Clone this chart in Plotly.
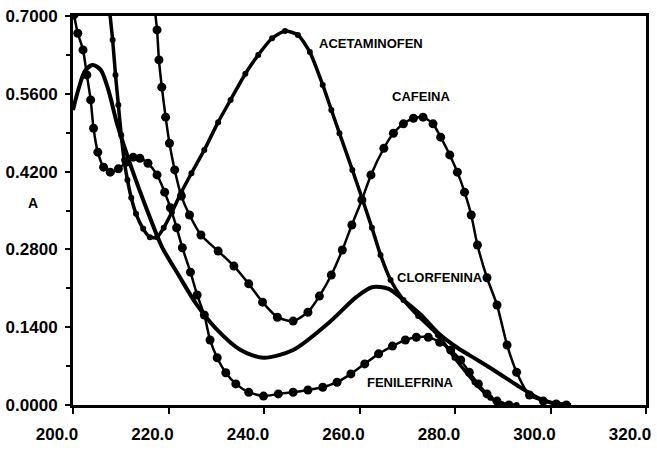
import plotly.graph_objects as go

# ---- data (wavelength nm, absorbance) ----
clor_wl = [200.0, 201.2, 202.5, 204.1, 205.8, 207.4, 209.3, 212.4, 215.5, 218.6, 222.1, 225.8,
           229.9, 235.1, 239.9, 246.1, 253.7, 259.3, 262.6, 266.1, 269.2, 272.9, 276.4, 280.5,
           284.7, 288.8, 292.9, 297.1, 300.2, 304.3]
clor_a = [0.531, 0.570, 0.601, 0.612, 0.603, 0.567, 0.504, 0.423, 0.351, 0.285, 0.234, 0.182,
          0.138, 0.099, 0.085, 0.099, 0.149, 0.194, 0.212, 0.209, 0.189, 0.162, 0.130, 0.103,
          0.081, 0.059, 0.036, 0.014, 0.004, 0.000]

acet_wl = [207.6, 208.3, 208.9, 209.5, 210.1, 210.7, 211.4, 212.2, 213.2, 214.7, 216.1, 217.6,
           219.0, 220.7, 222.7, 224.8, 227.5, 230.4, 233.0, 236.1, 238.8, 241.7, 244.4, 247.1,
           249.6, 252.3, 254.1, 255.8, 258.5, 260.5, 262.6, 264.4, 266.5, 269.2, 272.3, 276.4,
           279.9, 284.1, 287.4, 289.8, 292.9]
acet_a = [0.714, 0.657, 0.594, 0.540, 0.486, 0.441, 0.405, 0.373, 0.344, 0.317, 0.302, 0.302,
          0.319, 0.347, 0.383, 0.417, 0.459, 0.509, 0.549, 0.596, 0.630, 0.660, 0.673, 0.666,
          0.635, 0.576, 0.531, 0.489, 0.423, 0.373, 0.319, 0.270, 0.225, 0.189, 0.160, 0.126,
          0.085, 0.041, 0.013, 0.002, 0.000]

cafe_wl = [217.1, 217.6, 218.0, 218.6, 219.4, 220.2, 221.3, 222.7, 224.4, 226.8, 230.4, 233.7,
           236.8, 239.7, 242.8, 246.1, 249.2, 251.6, 254.1, 256.4, 258.4, 260.5, 262.4, 265.1,
           267.1, 269.2, 271.3, 273.3, 275.4, 277.0, 278.9, 280.5, 282.0, 283.4, 284.7, 286.7,
           288.8, 290.9, 292.9, 295.6, 298.5, 301.2, 303.3]
cafe_a = [0.714, 0.675, 0.621, 0.572, 0.518, 0.471, 0.423, 0.376, 0.342, 0.306, 0.277, 0.250,
          0.218, 0.185, 0.158, 0.151, 0.167, 0.196, 0.234, 0.279, 0.324, 0.369, 0.414, 0.462,
          0.489, 0.506, 0.516, 0.518, 0.506, 0.482, 0.450, 0.419, 0.383, 0.342, 0.288, 0.229,
          0.180, 0.108, 0.059, 0.018, 0.007, 0.002, 0.000]

feni_wl = [200.2, 201.0, 202.1, 202.9, 203.7, 204.3, 205.2, 206.4, 207.8, 209.5, 211.2, 212.6,
           214.0, 215.7, 217.6, 219.2, 220.4, 221.7, 222.9, 224.6, 226.0, 227.5, 228.7, 230.2,
           232.0, 234.1, 236.8, 239.9, 243.0, 246.1, 249.2, 252.3, 255.3, 258.2, 261.1, 264.0,
           266.9, 269.6, 271.9, 274.4, 276.8, 279.1, 281.2, 283.0, 284.9, 286.7, 288.8, 291.3]
feni_a = [0.702, 0.669, 0.639, 0.594, 0.549, 0.498, 0.455, 0.428, 0.419, 0.425, 0.437, 0.446,
          0.444, 0.435, 0.414, 0.383, 0.355, 0.319, 0.283, 0.239, 0.198, 0.162, 0.117, 0.085,
          0.058, 0.038, 0.023, 0.016, 0.020, 0.023, 0.027, 0.032, 0.041, 0.056, 0.074, 0.092,
          0.106, 0.117, 0.122, 0.122, 0.113, 0.099, 0.081, 0.059, 0.038, 0.020, 0.007, 0.000]

x_ticks = [200, 220, 240, 260, 280, 300, 320]
x_labels = ["200.0", "220.0", "240.0", "260.0", "280.0", "300.0", "320.0"]
y_ticks = [0.0, 0.14, 0.28, 0.42, 0.56, 0.70]
y_labels = ["0.0000", "0.1400", "0.2800", "0.4200", "0.5600", "0.7000"]

labels = [("ACETAMINOFEN", 262.4, 0.651), ("CAFEINA", 272.9, 0.556),
          ("CLORFENINA", 276.8, 0.229), ("FENILEFRINA", 270.6, 0.041)]

FONT = "Liberation Sans"

fig = go.Figure()
fig.add_trace(go.Scatter(x=clor_wl, y=clor_a, mode="lines",
                         line=dict(color="black", width=4, shape="spline", smoothing=0.8),
                         hoverinfo="skip"))
fig.add_trace(go.Scatter(x=acet_wl, y=acet_a, mode="lines+markers",
                         line=dict(color="black", width=3.5, shape="spline", smoothing=0.6),
                         marker=dict(color="black", size=6), hoverinfo="skip"))
fig.add_trace(go.Scatter(x=cafe_wl, y=cafe_a, mode="lines+markers",
                         line=dict(color="black", width=2.5, shape="spline", smoothing=0.6),
                         marker=dict(color="black", size=9), hoverinfo="skip"))
fig.add_trace(go.Scatter(x=feni_wl, y=feni_a, mode="lines+markers",
                         line=dict(color="black", width=2.5, shape="spline", smoothing=0.6),
                         marker=dict(color="black", size=9), hoverinfo="skip"))

for text, lx, ly in labels:
    fig.add_annotation(x=lx, y=ly, xref="x", yref="y", text=text, showarrow=False,
                       xanchor="center", yanchor="middle",
                       font=dict(family=FONT, size=13, color="black", weight="bold"))

fig.add_annotation(x=-0.07, y=0.363, xref="paper", yref="y", text="A", showarrow=False,
                   xanchor="center", yanchor="middle",
                   font=dict(family=FONT, size=14, color="black", weight="bold"))

fig.update_layout(
    width=657, height=451,
    margin=dict(l=70, r=6, t=16, b=46),
    paper_bgcolor="white", plot_bgcolor="white",
    showlegend=False,
    xaxis=dict(range=[200, 320], tickmode="array", tickvals=x_ticks, ticktext=x_labels,
               showline=True, linewidth=3, linecolor="black", mirror=True,
               ticks="outside", ticklen=6, tickwidth=2, tickcolor="black",
               showgrid=False, zeroline=False, ticklabelshift=-16, ticklabelstandoff=6,
               tickfont=dict(family=FONT, size=17, color="black", weight="bold")),
    yaxis=dict(range=[0, 0.70], tickmode="array", tickvals=y_ticks, ticktext=y_labels,
               showline=True, linewidth=3, linecolor="black", mirror=True,
               ticks="outside", ticklen=5, tickwidth=2, tickcolor="black",
               showgrid=False, zeroline=False, ticklabelstandoff=4,
               minor=dict(tick0=0, dtick=0.07, ticks="outside", ticklen=4, tickwidth=2,
                          tickcolor="black", showgrid=False),
               tickfont=dict(family=FONT, size=17, color="black", weight="bold")),
)

fig.write_html("out.html")
